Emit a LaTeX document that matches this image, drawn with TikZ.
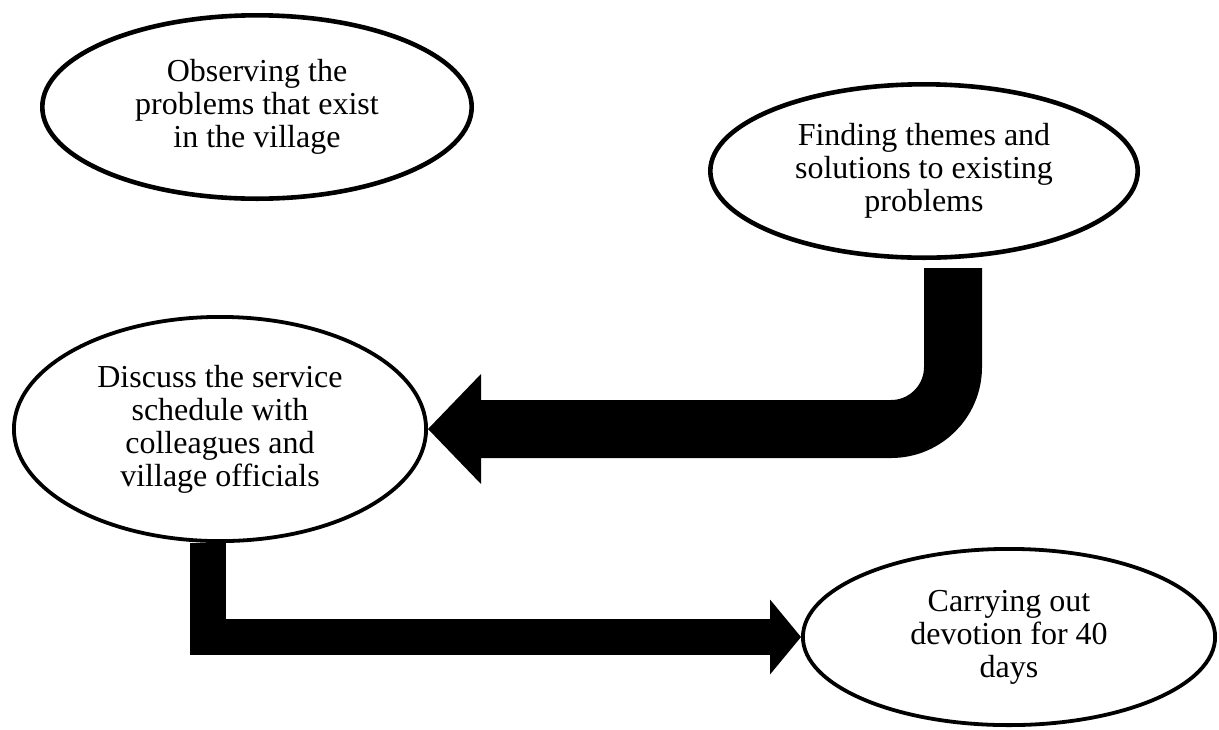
\documentclass[tikz,border=0pt]{standalone}
\usepackage{fontspec}
\setmainfont{Liberation Serif}
\usetikzlibrary{shapes.geometric, arrows.meta}

\tikzset{
	stage/.style = {draw, ellipse, line width=2.3pt, align=center, inner sep=0pt,
		font=\fontsize{16}{16.5}\selectfont},
	bigarrow/.style = {line width=29pt, -{Triangle[length=26.5pt, width=55pt, line width=0pt]}},
	smallarrow/.style = {line width=18pt, -{Triangle[length=15.5pt, width=37.5pt, line width=0pt]}}
}

\begin{document}
\begin{tikzpicture}[x=0.5pt, y=-0.5pt]
		\useasboundingbox (0,0) rectangle (1219,729);
		
		\node [stage, minimum width=214.7pt, minimum height=91.7pt] (observe) at (257,107)
			{Observing the\\problems that exist\\in the village};
		\node [stage, minimum width=213.7pt, minimum height=86.7pt] (themes) at (924,171)
			{Finding themes and\\solutions to existing\\problems};
		\node [stage, line width=1.9pt, minimum width=206.1pt, minimum height=112.1pt] (discuss) at (220,429)
			{Discuss the service\\schedule with\\colleagues and\\village officials};
		\node [stage, line width=1.9pt, minimum width=206.1pt, minimum height=88.1pt] (devotion) at (1009,637)
			{Carrying out\\devotion for 40\\days};
		
		\begin{scope}[black]
			\draw [bigarrow, rounded corners=31pt] ([xshift=14.5pt, yshift=-4pt]themes.south) |- (discuss.east);
			\draw [smallarrow] ([xshift=-6pt]discuss.south) |- (devotion.west);
		\end{scope}
	\end{tikzpicture}
\end{document}
